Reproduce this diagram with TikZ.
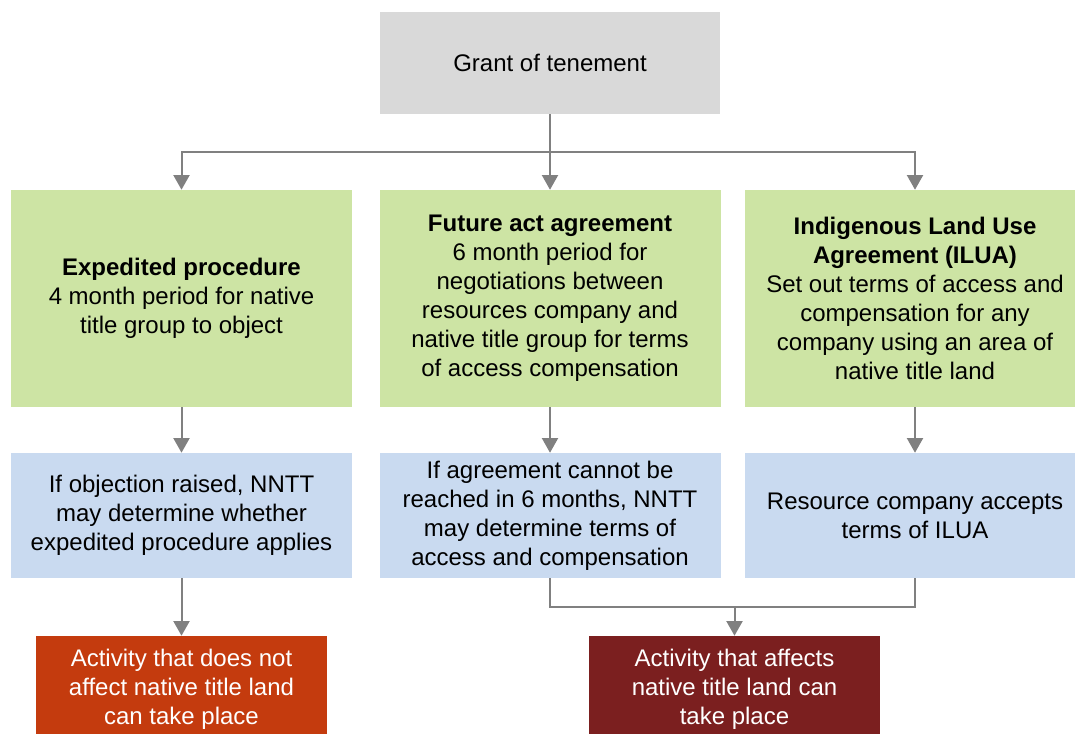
\documentclass[tikz,border=0pt]{standalone}
\usepackage{fontspec}
\setmainfont{Liberation Sans}
\usetikzlibrary{arrows.meta}
\definecolor{boxgray}{HTML}{D9D9D9}
\definecolor{boxgreen}{HTML}{CDE4A4}
\definecolor{boxblue}{HTML}{C9DAF0}
\definecolor{boxorange}{HTML}{C43B0E}
\definecolor{boxred}{HTML}{7B1F1F}
\definecolor{linegray}{HTML}{808080}
\begin{document}
\begin{tikzpicture}[x=0.75pt,y=-0.75pt,
  base/.style={rectangle, inner sep=0pt, align=center, font=\fontsize{18}{21.75}\selectfont},
  topbox/.style={base, fill=boxgray, minimum width=255pt, minimum height=76.5pt},
  greenbox/.style={base, fill=boxgreen, minimum width=255.75pt, minimum height=162.75pt},
  bluebox/.style={base, fill=boxblue, minimum width=255.75pt, minimum height=93.75pt},
  endbox/.style={base, text=white, minimum width=218.25pt, minimum height=79.5pt},
  conn/.style={draw=linegray, line width=1.5pt},
  arr/.style={conn, -{Triangle[width=12pt,length=11pt]}}
]
\useasboundingbox (0,0) rectangle (1075,733);
\node[topbox] (top) at (550,63) {Grant of tenement};
\node[greenbox] (g1) at (181.5,298.5) {\textbf{Expedited procedure}\\4 month period for native\\title group to object};
\node[greenbox] (g2) at (550,298.5) {\textbf{Future act agreement}\\6 month period for\\negotiations between\\resources company and\\native title group for terms\\of access compensation};
\node[greenbox] (g3) at (915,298.5) {\textbf{Indigenous Land Use}\\\textbf{Agreement (ILUA)}\\Set out terms of access and\\compensation for any\\company using an area of\\native title land};
\node[bluebox] (b1) at (181.5,515.5) {If objection raised, NNTT\\may determine whether\\expedited procedure applies};
\node[bluebox] (b2) at (550,515.5) {If agreement cannot be\\reached in 6 months, NNTT\\may determine terms of\\access and compensation};
\node[bluebox] (b3) at (915,515.5) {Resource company accepts\\terms of ILUA};
\node[endbox, fill=boxorange] (o1) at (181.5,689) {Activity that does not\\affect native title land\\can take place};
\node[endbox, fill=boxred] (r1) at (734.5,689) {Activity that affects\\native title land can\\take place};
\coordinate (split) at (550,152);
\coordinate (merge) at (734.5,607);
\draw[arr] (top.south) -- (g2.north);
\draw[arr] (split) -| (g1.north);
\draw[arr] (split) -| (g3.north);
\draw[arr] (g1.south) -- (b1.north);
\draw[arr] (g2.south) -- (b2.north);
\draw[arr] (g3.south) -- (b3.north);
\draw[arr] (b1.south) -- (o1.north);
\draw[conn] (b2.south) |- (merge);
\draw[conn] (b3.south) |- (merge);
\draw[arr] (merge) -- (r1.north);
\end{tikzpicture}
\end{document}
